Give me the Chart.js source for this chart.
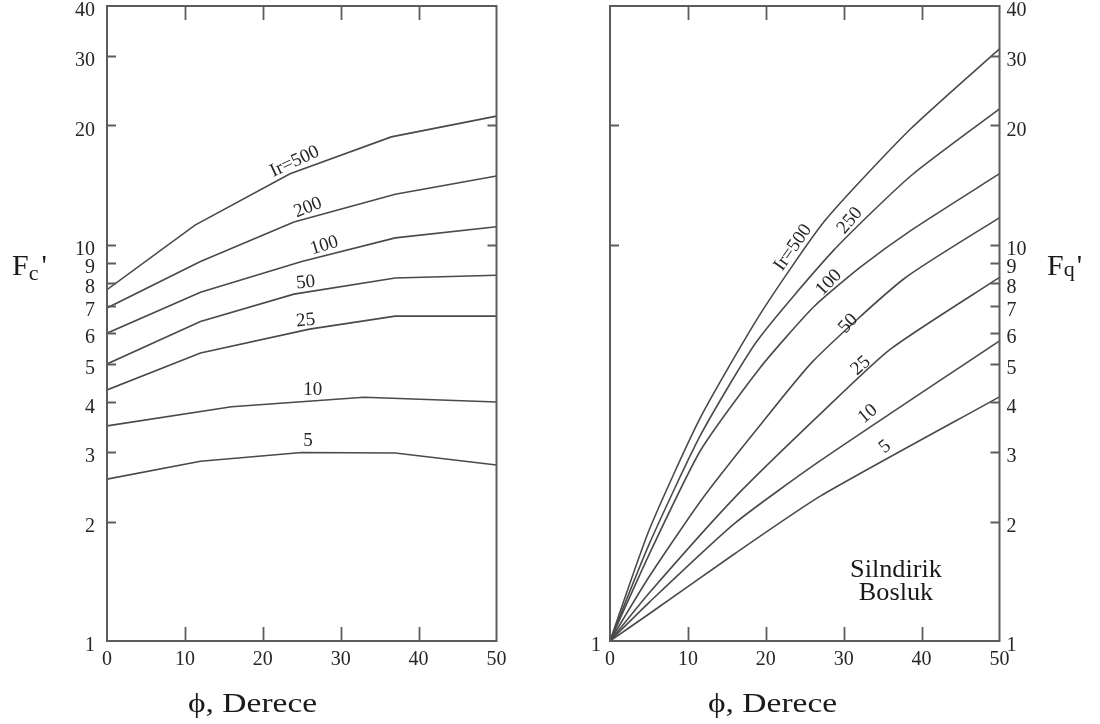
<!DOCTYPE html>
<html>
<head>
<meta charset="utf-8">
<script src="https://cdn.jsdelivr.net/npm/chart.js@4.4.1/dist/chart.umd.min.js"></script>
<style>
  body { margin: 0; background: #fff; }
  #wrap { position: relative; width: 1100px; height: 724px; overflow: hidden;
          font-family: "Liberation Serif", "Times New Roman", serif; color: #1a1a1a; }
  #wrap canvas { position: absolute; top: 0; }
  .txt { position: absolute; white-space: nowrap; line-height: 1; }
</style>
</head>
<body>
<div id="wrap">
  <canvas id="fcChart" width="550" height="724" style="left:0"></canvas>
  <canvas id="fqChart" width="550" height="724" style="left:550px"></canvas>

  <div class="txt" style="left:12px; top:250px; font-size:30px;">F<span style="font-size:22px; position:relative; top:5px;">c</span><span style="margin-left:3px;">'</span></div>
  <div class="txt" style="left:1047px; top:250px; font-size:30px;">F<span style="font-size:22px; position:relative; top:1px;">q</span><span style="margin-left:2px;">'</span></div>

  <div class="txt" style="left:188px; top:690px; font-size:27px; transform:scaleX(1.24); transform-origin:0 0;">&#981;, Derece</div>
  <div class="txt" style="left:708px; top:690px; font-size:27px; transform:scaleX(1.24); transform-origin:0 0;">&#981;, Derece</div>

  <div class="txt" style="left:796px; top:557px; width:200px; text-align:center; font-size:25px; line-height:23px; transform:scaleX(1.05);">Silndirik<br>Bosluk</div>
</div>

<script>
// axis values
const phiTicks = [0, 10, 20, 30, 40, 50];
const fTicks = [1, 2, 3, 4, 5, 6, 7, 8, 9, 10, 20, 30, 40];

// Fc' curves: friction angle (deg) and factor for each Ir
const fcPhi500 = [0, 11.3, 23.5, 36.5, 50];
const fc500 = [7.7, 11.2, 15.1, 18.7, 21.1];
const fcPhi200 = [0, 12, 24, 37, 50];
const fc200 = [6.92, 9.07, 11.4, 13.4, 14.9];
const fcPhi100 = [0, 12, 25, 37, 50];
const fc100 = [5.98, 7.58, 9.07, 10.4, 11.1];
const fcPhi50 = [0, 12, 24, 37, 50];
const fc50 = [5.0, 6.4, 7.5, 8.24, 8.37];
const fcPhi25 = [0, 12, 26, 37, 50];
const fc25 = [4.3, 5.33, 6.12, 6.6, 6.6];
const fcPhi10 = [0, 16, 33, 50];
const fc10 = [3.49, 3.9, 4.12, 4.01];
const fcPhi5 = [0, 12, 25, 37, 50];
const fc5 = [2.56, 2.84, 2.99, 2.98, 2.78];

// Fq' curves (cylindrical cavity)
const fqPhi500 = [0, 5, 11.6, 19.3, 27.6, 38.6, 50];
const fq500 = [1, 1.9, 3.66, 6.69, 11.5, 19.6, 31.2];
const fqPhi250 = [0, 5, 11.6, 18.9, 28.7, 38.6, 50];
const fq250 = [1, 1.75, 3.3, 5.72, 9.67, 14.9, 22.0];
const fqPhi100 = [0, 5, 11.6, 19.3, 26.1, 32.1, 38.6, 50];
const fq100 = [1, 1.65, 3.02, 4.9, 6.95, 8.76, 10.85, 15.1];
const fqPhi50 = [0, 5, 11.6, 19, 26.1, 37.7, 50];
const fq50 = [1, 1.45, 2.25, 3.45, 5.09, 8.19, 11.7];
const fqPhi25 = [0, 5, 16, 27, 36, 50];
const fq25 = [1, 1.32, 2.3, 3.74, 5.45, 8.27];
const fqPhi10 = [0, 5, 16, 27, 50];
const fq10 = [1, 1.25, 1.98, 2.85, 5.72];
const fqPhi5 = [0, 5, 16, 27, 50];
const fq5 = [1, 1.17, 1.66, 2.32, 4.13];

const fcNames = ['Ir=500', '200', '100', '50', '25', '10', '5'];
const fqNames = ['Ir=500', '250', '100', '50', '25', '10', '5'];

// where each curve name sits (phi, F) and its slant in degrees
const fcNameSpots = [[24.1, 16.2, -25], [25.8, 12.4, -22], [27.9, 9.94, -17], [25.5, 8.02, -6], [25.5, 6.43, -6], [26.4, 4.3, 0], [25.8, 3.2, 0]];
const fqNameSpots = [[23.5, 9.83, -55], [30.8, 11.5, -50], [28.1, 8.02, -46], [30.6, 6.32, -47], [32.2, 4.95, -42], [33.1, 3.74, -40], [35.3, 3.09, -37]];

const INK = '#4a4a4a';
const LABEL_INK = '#262626';
const serif = 'Liberation Serif';

function pairs(xs, ys) {
  return xs.map((x, i) => ({ x: x, y: ys[i] }));
}

function lineSet(xs, ys, bend) {
  return {
    data: pairs(xs, ys),
    borderColor: INK,
    borderWidth: 1.6,
    pointRadius: 0,
    fill: false,
    tension: bend || 0
  };
}

// box around the plot, inward tick marks and the curve names
const framePlugin = {
  id: 'frame',
  afterDraw(chart, args, opts) {
    const { ctx, chartArea: a, scales } = chart;
    const ys = scales.y;
    const xs = scales.x;
    ctx.save();
    ctx.strokeStyle = '#5c5c5c';
    ctx.lineWidth = 2;
    ctx.strokeRect(a.left, a.top, a.right - a.left, a.bottom - a.top);

    ctx.lineWidth = 1.8;
    ctx.beginPath();
    phiTicks.slice(1, -1).forEach(v => {
      const px = Math.round(xs.getPixelForValue(v)) + 0.5;
      ctx.moveTo(px, a.bottom); ctx.lineTo(px, a.bottom - 14);
      ctx.moveTo(px, a.top); ctx.lineTo(px, a.top + 14);
    });
    opts.leftTicks.forEach(v => {
      const py = Math.round(ys.getPixelForValue(v)) + 0.5;
      ctx.moveTo(a.left, py); ctx.lineTo(a.left + 9, py);
    });
    opts.rightTicks.forEach(v => {
      const py = Math.round(ys.getPixelForValue(v)) + 0.5;
      ctx.moveTo(a.right, py); ctx.lineTo(a.right - 9, py);
    });
    ctx.stroke();

    ctx.fillStyle = LABEL_INK;
    ctx.font = '19px "' + serif + '"';
    ctx.textAlign = 'center';
    ctx.textBaseline = 'middle';
    opts.names.forEach((name, i) => {
      const s = opts.spots[i];
      ctx.save();
      ctx.translate(xs.getPixelForValue(s[0]), ys.getPixelForValue(s[1]));
      ctx.rotate(s[2] * Math.PI / 180);
      ctx.fillText(name, 0, 0);
      ctx.restore();
    });
    ctx.restore();
  }
};

function fixTicks(scale) {
  scale.ticks = fTicks.map(v => ({ value: v }));
}

const tickFont = { family: serif, size: 20 };

function xScale() {
  return {
    type: 'linear', position: 'bottom', min: 0, max: 50,
    afterBuildTicks: s => { s.ticks = phiTicks.map(v => ({ value: v })); },
    afterFit: s => { s.height = 83; s.paddingLeft = 0; s.paddingRight = 0; },
    grid: { display: false, drawTicks: false },
    border: { display: false },
    ticks: { color: LABEL_INK, font: tickFont, padding: 7, maxRotation: 0, autoSkip: false }
  };
}

function yScale(pos, width, pad, only) {
  return {
    type: 'logarithmic', position: pos, min: 1, max: 40,
    afterBuildTicks: only ? (s => { s.ticks = only.map(v => ({ value: v })); }) : fixTicks,
    afterFit: s => { s.width = width; s.paddingTop = 0; s.paddingBottom = 0; },
    grid: { display: false, drawTicks: false },
    border: { display: false },
    ticks: { color: LABEL_INK, font: tickFont, padding: pad, labelOffset: 5, autoSkip: false,
             callback: v => String(v) }
  };
}

const common = {
  responsive: false,
  animation: false,
  devicePixelRatio: 1,
  plugins: { legend: { display: false }, tooltip: { enabled: false } }
};

new Chart(document.getElementById('fcChart'), {
  type: 'line',
  data: {
    datasets: [
      lineSet(fcPhi500, fc500), lineSet(fcPhi200, fc200), lineSet(fcPhi100, fc100),
      lineSet(fcPhi50, fc50), lineSet(fcPhi25, fc25), lineSet(fcPhi10, fc10), lineSet(fcPhi5, fc5)
    ]
  },
  options: Object.assign({}, common, {
    layout: { padding: { top: 6, right: 53.5, bottom: 0, left: 0 } },
    scales: { x: xScale(), y: yScale('left', 107, 12) },
    plugins: Object.assign({}, common.plugins, {
      frame: { leftTicks: fTicks.slice(1, -1), rightTicks: [10, 20], names: fcNames, spots: fcNameSpots }
    })
  }),
  plugins: [framePlugin]
});

new Chart(document.getElementById('fqChart'), {
  type: 'line',
  data: {
    datasets: [
      lineSet(fqPhi500, fq500, 0.2), lineSet(fqPhi250, fq250, 0.2), lineSet(fqPhi100, fq100, 0.2),
      lineSet(fqPhi50, fq50, 0.2), lineSet(fqPhi25, fq25, 0.2), lineSet(fqPhi10, fq10, 0.2), lineSet(fqPhi5, fq5, 0.2)
    ]
  },
  options: Object.assign({}, common, {
    layout: { padding: { top: 6, right: 0, bottom: 0, left: 0 } },
    scales: {
      x: xScale(),
      yL: yScale('left', 60, 9, [1]),
      y: yScale('right', 100.5, 7)
    },
    plugins: Object.assign({}, common.plugins, {
      frame: { leftTicks: [10, 20], rightTicks: fTicks.slice(1, -1), names: fqNames, spots: fqNameSpots }
    })
  }),
  plugins: [framePlugin]
});
</script>
</body>
</html>
